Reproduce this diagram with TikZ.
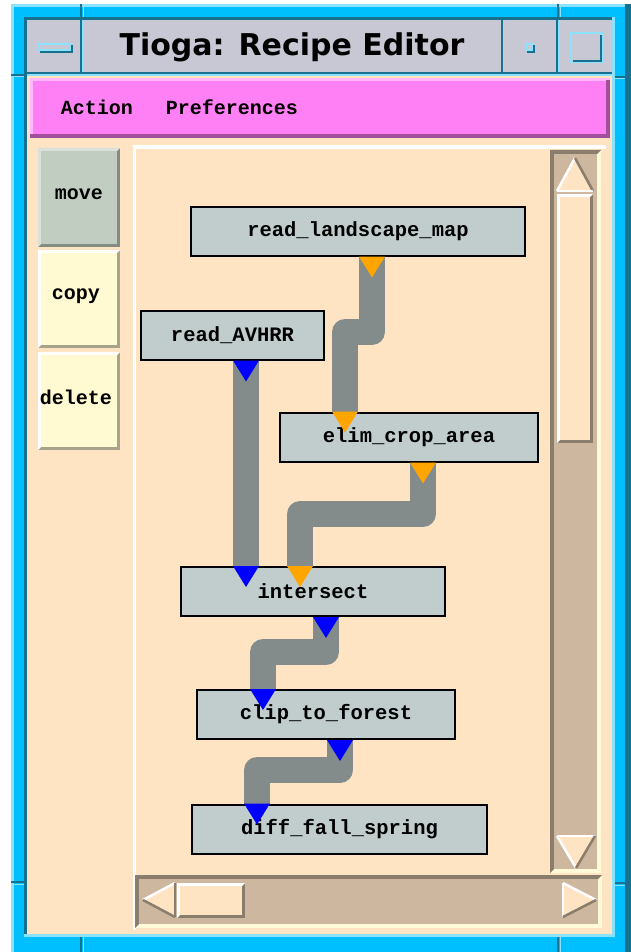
\documentclass[tikz,border=0pt]{standalone}
\usepackage{fontspec}
\usetikzlibrary{calc}
\newfontfamily\uifont{Liberation Mono}
\newfontfamily\titlefont{DejaVu Sans}
\definecolor{frameC}{HTML}{00BFFF}
\definecolor{frameL}{HTML}{8AE2FF}
\definecolor{frameD}{HTML}{17708E}
\definecolor{titleG}{HTML}{C8C8D4}
\definecolor{menuM}{HTML}{FF80F4}
\definecolor{menuL}{HTML}{FFB8FF}
\definecolor{menuD}{HTML}{A0509C}
\definecolor{peach}{HTML}{FFE4C4}
\definecolor{nodeF}{HTML}{C1CDCD}
\definecolor{connG}{HTML}{838B8B}
\definecolor{moveF}{HTML}{C1CDC1}
\definecolor{moveD}{HTML}{838B83}
\definecolor{btnY}{HTML}{FFFAD2}
\definecolor{btnYD}{HTML}{A8A48C}
\definecolor{sbT}{HTML}{CDB79E}
\definecolor{sbD}{HTML}{8B7D6B}
\definecolor{sbL}{HTML}{FFFAD8}
\definecolor{portO}{HTML}{FFA500}
\definecolor{portB}{HTML}{0000FF}
\newcommand\bevelbox[8]{%
 \fill[#7] (#1,#2) rectangle (#3,#4);
 \fill[#6] (#1,#2) -- (#3,#2) -- ({#3-#5},{#2+#5}) -- ({#1+#5},{#2+#5}) -- ({#1+#5},{#4-#5}) -- (#1,#4) -- cycle;
 \fill[#8] ({#1+#5},{#2+#5}) rectangle ({#3-#5},{#4-#5});}
\newcommand\porttri[2]{\fill[#1] ($(#2)+(-13,0)$) -- ($(#2)+(13,0)$) -- ($(#2)+(0,21)$) -- cycle;}
\tikzset{
 proc/.style={draw=black, line width=2pt, fill=nodeF, minimum height=49pt, inner sep=0pt,
   font=\uifont\bfseries\fontsize{20.5}{21}\selectfont},
 uitext/.style={inner sep=0pt, font=\uifont\bfseries\fontsize{20}{21}\selectfont},
 conn/.style={draw=connG, line width=26pt, line join=round, line cap=butt},
 notchD/.style={draw=frameD, line width=2pt},
 notchL/.style={draw=frameL, line width=1pt},
 arrL/.style={white, line width=2.5pt},
 arrD/.style={sbD, line width=2.5pt}
}
\begin{document}
\begin{tikzpicture}[x=1pt,y=-1pt]
\useasboundingbox (0,0) rectangle (631,952);
\fill[white] (0,0) rectangle (631,952);
% ---- window frame
\fill[frameC] (11,4) rectangle (631,952);
\fill[frameL] (11,4) rectangle (631,7);
\fill[frameL] (11,4) rectangle (14,952);
\fill[frameD] (625,4) rectangle (631,952);
\fill[frameD] (24,17) rectangle (615,20);
\fill[frameD] (24,17) rectangle (27,937);
\fill[frameL] (612,17) rectangle (615,937);
\fill[frameL] (24,934) rectangle (615,937);
% resize notches
\draw[notchD] (81,4) -- (81,17);   \draw[notchL] (83,4) -- (83,17);
\draw[notchD] (558,4) -- (558,17); \draw[notchL] (560,4) -- (560,17);
\draw[notchD] (81,937) -- (81,952);   \draw[notchL] (83,937) -- (83,952);
\draw[notchD] (558,937) -- (558,952); \draw[notchL] (560,937) -- (560,952);
\draw[notchD] (11,75) -- (24,75);   \draw[notchL] (11,77) -- (24,77);
\draw[notchD] (11,882) -- (24,882); \draw[notchL] (11,884) -- (24,884);
\draw[notchD] (615,77) -- (625,77);   \draw[notchL] (615,79) -- (625,79);
\draw[notchD] (615,883) -- (625,883); \draw[notchL] (615,885) -- (625,885);
% ---- title bar
\fill[titleG] (27,20) rectangle (612,72);
\fill[frameD] (27,72) rectangle (612,74);
\fill[frameL] (27,74) rectangle (612,76);
\fill[frameD] (80,20) rectangle (82,72); \fill[frameL] (82,20) rectangle (83,72);
\fill[frameD] (501,20) rectangle (503,72); \fill[frameL] (503,20) rectangle (504,72);
\fill[frameD] (556,20) rectangle (558,72); \fill[frameL] (558,20) rectangle (559,72);
% minimize glyph
\draw[frameL, line width=2pt] (39,44) rectangle (70,50);
\draw[frameD, line width=2pt] (40,52) -- (72,52) -- (72,45);
% small square
\draw[frameL, line width=2pt] (526,44) rectangle (532,50);
\draw[frameD, line width=2pt] (527,52) -- (534,52) -- (534,45);
% big square
\draw[frameL, line width=2pt] (571,33) rectangle (602,62);
\draw[frameD, line width=2pt] (573,61) -- (601,61) -- (601,35);
\node[inner sep=0pt, font=\titlefont\bfseries\fontsize{30}{32}\selectfont] (title) at (292,47) {Tioga: Recipe Editor};
% ---- body
\fill[peach] (27,76) rectangle (612,934);
% menu bar
\fill[menuM] (30,78) rectangle (610,138);
\fill[menuL] (30,78) rectangle (610,81);
\fill[menuL] (30,78) rectangle (33,138);
\fill[menuD] (30,134) rectangle (610,138);
\fill[menuD] (606,80) rectangle (610,138);
\node[uitext] (mAction) at (97,107) {Action};
\node[uitext] (mPref) at (232,107) {Preferences};
% ---- tool buttons
\bevelbox{38}{148}{120}{247}{3}{moveF!60!white}{moveD}{moveF}
\bevelbox{38}{250}{120}{348}{3}{white}{btnYD}{btnY}
\bevelbox{38}{352}{120}{450}{3}{white}{btnYD}{btnY}
\node[uitext] (bMove) at (79,194) {move};
\node[uitext] (bCopy) at (76,296) {copy};
\node[uitext] (bDelete) at (76,397) {delete};
% ---- canvas frame
\fill[white] (133,145) rectangle (136,930);
\fill[white] (133,145) rectangle (606,149);
% vertical scrollbar
\bevelbox{550}{150}{601}{873}{4}{sbD}{sbL}{sbT}
\fill[peach] (575,158) -- (593,191) -- (557,191) -- cycle;
\draw[arrL] (557,191) -- (575,158);
\draw[arrD] (575,158) -- (593,191);
\draw[arrL] (557,191) -- (593,191);
\bevelbox{557}{194}{593}{443}{3}{white}{sbD}{peach}
\fill[peach] (557,836) -- (595,836) -- (576,868) -- cycle;
\draw[arrL] (557,836) -- (595,836);
\draw[arrL] (557,836) -- (576,868);
\draw[arrD] (595,836) -- (576,868);
% horizontal scrollbar
\bevelbox{135}{875}{602}{928}{4}{sbD}{sbL}{sbT}
\fill[peach] (143,900) -- (175,883) -- (175,917) -- cycle;
\draw[arrL] (143,900) -- (175,883);
\draw[arrD] (143,900) -- (175,917);
\draw[arrD] (175,883) -- (175,917);
\bevelbox{177}{883}{245}{918}{3}{white}{sbD}{peach}
\fill[peach] (563,883) -- (596,900) -- (563,917) -- cycle;
\draw[arrL] (563,883) -- (563,917);
\draw[arrL] (563,883) -- (596,900);
\draw[arrD] (563,917) -- (596,900);
% ---- recipe graph nodes
\node[proc, minimum width=334pt] (rlm) at (358,231) {read\_landscape\_map};
\node[proc, minimum width=183pt] (avhrr) at (232.5,335) {read\_AVHRR};
\node[proc, minimum width=258pt] (elim) at (409,437) {elim\_crop\_area};
\node[proc, minimum width=264pt] (inter) at (313,591.5) {intersect};
\node[proc, minimum width=258pt] (clip) at (326,714.5) {clip\_to\_forest};
\node[proc, minimum width=295pt] (diff) at (339.5,829) {diff\_fall\_spring};
% ports
\coordinate (rlmO) at ([xshift=14pt]rlm.south);
\coordinate (elimI) at ([xshift=-64pt]elim.north);
\coordinate (elimO) at ([xshift=14pt]elim.south);
\coordinate (avO) at ([xshift=13.5pt]avhrr.south);
\coordinate (interA) at ([xshift=-67pt]inter.north);
\coordinate (interE) at ([xshift=-13pt]inter.north);
\coordinate (interO) at ([xshift=13pt]inter.south);
\coordinate (clipI) at ([xshift=-63pt]clip.north);
\coordinate (clipO) at ([xshift=14pt]clip.south);
\coordinate (diffI) at ([xshift=-82.5pt]diff.north);
\coordinate (b1) at (0,332);
\coordinate (b2) at (0,514);
\coordinate (b3) at (0,652);
\coordinate (b4) at (0,770);
% connectors
\draw[conn] (rlmO) -- (rlmO |- b1) -- (elimI |- b1) -- (elimI);
\draw[conn] (avO) -- (interA);
\draw[conn] (elimO) -- (elimO |- b2) -- (interE |- b2) -- (interE);
\draw[conn] (interO) -- (interO |- b3) -- (clipI |- b3) -- (clipI);
\draw[conn] (clipO) -- (clipO |- b4) -- (diffI |- b4) -- (diffI);
% port markers
\porttri{portO}{rlmO}
\porttri{portO}{elimI}
\porttri{portO}{elimO}
\porttri{portO}{interE}
\porttri{portB}{avO}
\porttri{portB}{interA}
\porttri{portB}{interO}
\porttri{portB}{clipI}
\porttri{portB}{clipO}
\porttri{portB}{diffI}
\end{tikzpicture}
\end{document}
